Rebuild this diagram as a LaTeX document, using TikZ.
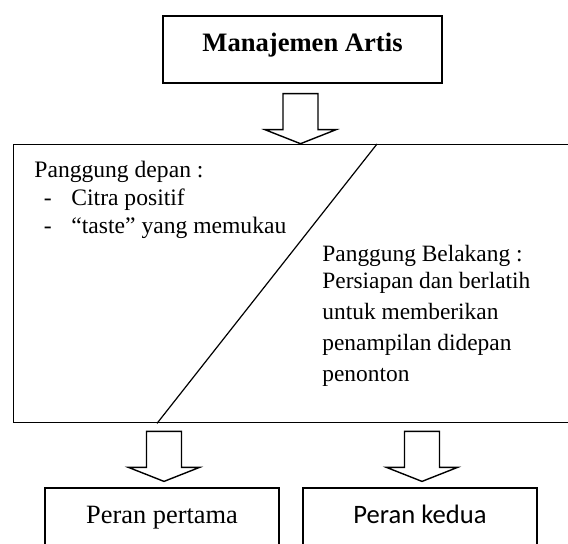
\documentclass[tikz,border=0pt]{standalone}
\usepackage{fontspec}
\setmainfont{Liberation Serif}
\newfontfamily\carlito{Carlito}
\usetikzlibrary{calc}
\tikzset{
  kotak/.style={draw, line width=0.7pt, minimum width=117pt, minimum height=33.5pt,
    text height=8pt, text depth=5.8pt, font=\fontsize{13.2}{15}\selectfont},
  isi/.style={align=left, anchor=west, inner sep=0pt},
  panah/.pic={
    \draw[line width=0.7pt] (-17.5,0) -- (17.5,0) -- (17.5,36) -- (35.5,36)
      -- (0,50) -- (-35.5,36) -- (-17.5,36) -- cycle;
  }
}
\newcommand{\butir}[1]{\hspace*{4.75pt}\makebox[13.75pt][l]{-}#1}

\begin{document}
\begin{tikzpicture}[x=0.5pt, y=-0.5pt]
  \useasboundingbox (0,0) rectangle (568,544);
  \clip (0,0) rectangle (568,544);
  % Manajemen Artis
  \node[kotak, minimum width=139.5pt, font=\fontsize{13.3}{15}\selectfont\bfseries]
    (manajemen) at (302.5,49.5) {Manajemen Artis};
  % Panggung depan dan belakang
  \node[draw, line width=0.7pt, anchor=north west, minimum width=281pt,
    minimum height=139pt, inner sep=0pt] (panggung) at (12.7,144) {};
  \draw[line width=0.6pt] ($(panggung.north west)+(364.3,0)$) -- ($(panggung.south west)+(144.3,0)$);
  \node[isi, font=\fontsize{11.8}{14}\selectfont] (depan) at (34,200)
    {Panggung depan :\\ \butir{Citra positif}\\ \butir{“taste” yang memukau}};
  \node[isi, font=\fontsize{11.7}{15.5}\selectfont] (belakang) at (322,315.5)
    {Panggung Belakang :\\[-2pt] Persiapan dan berlatih\\ untuk memberikan\\
     penampilan didepan\\ penonton};
  % Peran
  \node[kotak] (pertama) at (162,521.5) {Peran pertama};
  \node[kotak, font=\fontsize{13.3}{15}\selectfont\carlito] (kedua) at (420,521.5) {Peran kedua};
  % Panah
  \pic at ($(manajemen.south)+(-2,10)$) {panah};
  \pic at ($(panggung.south -| pertama.north)+(2,8)$) {panah};
  \pic at ($(panggung.south -| kedua.north)+(2,8)$) {panah};
\end{tikzpicture}
\end{document}
